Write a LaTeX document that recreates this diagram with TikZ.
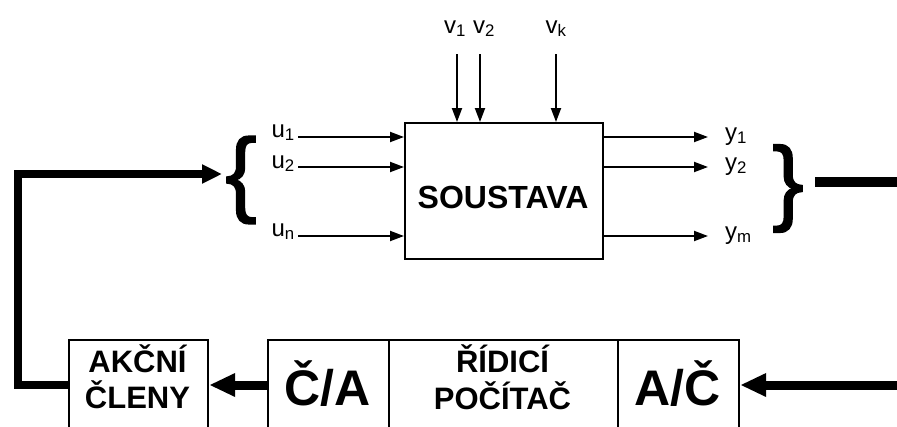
\documentclass[tikz,border=0pt]{standalone}
\usepackage{fontspec}
\setmainfont{Liberation Sans}
\newfontfamily\bracefont[FakeBold=1.6]{Liberation Sans}
\usetikzlibrary{arrows.meta}
\begin{document}
\begin{tikzpicture}[x=1pt,y=-1pt,
  arr/.style={line width=2pt,-{Triangle[length=14pt,width=10pt]}},
  blk/.style={draw,line width=2.2pt,inner sep=0pt},
  lbl/.style={font=\fontsize{24}{24}\selectfont,inner sep=1pt},
  bigtxt/.style={font=\fontsize{31}{31}\selectfont\bfseries,inner sep=0pt},
  hugetxt/.style={font=\fontsize{50}{50}\selectfont\bfseries,inner sep=0pt},
  bracetxt/.style={font=\fontsize{94}{94}\bracefont,inner sep=0pt},
  fatarr/.style={line width=9pt,-{Triangle[length=26pt,width=22pt]}}]
\useasboundingbox (0,0) rectangle (897,426);
\begin{scope}
\clip (0,0) rectangle (897,426);
% system block
\node[blk,minimum width=198pt,minimum height=136pt,anchor=north west] (sys) at (404,122) {};
\node[font=\fontsize{32}{32}\selectfont\bfseries,inner sep=0pt,anchor=base] (systxt) at (503,208) {SOUSTAVA};
% inputs u
\node[lbl,anchor=base east] (u1) at (296,137) {u\textsubscript{1}};
\node[lbl,anchor=base east] (u2) at (296,168) {u\textsubscript{2}};
\node[lbl,anchor=base east] (un) at (296,236) {u\textsubscript{n}};
\coordinate (u1s) at (298,137);
\coordinate (u2s) at (298,167);
\coordinate (uns) at (298,236);
\draw[arr] (u1s) -- (sys.west |- u1s);
\draw[arr] (u2s) -- (sys.west |- u2s);
\draw[arr] (uns) -- (sys.west |- uns);
% disturbances v
\node[lbl,anchor=base] (v1) at (455,33) {v\textsubscript{1}};
\node[lbl,anchor=base] (v2) at (484,33) {v\textsubscript{2}};
\node[lbl,anchor=base] (vk) at (556,33) {v\textsubscript{k}};
\coordinate (v1s) at (457,54);
\coordinate (v2s) at (480,54);
\coordinate (vks) at (556,54);
\draw[arr] (v1s) -- (v1s |- sys.north);
\draw[arr] (v2s) -- (v2s |- sys.north);
\draw[arr] (vks) -- (vks |- sys.north);
% outputs y
\coordinate (y1e) at (708,137);
\coordinate (y2e) at (708,167);
\coordinate (yme) at (708,236);
\draw[arr] (sys.east |- y1e) -- (y1e);
\draw[arr] (sys.east |- y2e) -- (y2e);
\draw[arr] (sys.east |- yme) -- (yme);
\node[lbl,anchor=base west] (y1) at (724,140) {y\textsubscript{1}};
\node[lbl,anchor=base west] (y2) at (724,170) {y\textsubscript{2}};
\node[lbl,anchor=base west] (ym) at (724,239) {y\textsubscript{m}};
% braces
\node[bracetxt] (lb) at (241,180) {\{};
\node[bracetxt] (rb) at (788,188.5) {\}};
% bottom blocks
\node[blk,minimum width=139pt,minimum height=120pt,anchor=north west] (akcni) at (68,339) {};
\node[blk,minimum width=121pt,minimum height=120pt,anchor=north west] (ca) at (267,339) {};
\node[blk,minimum width=229pt,minimum height=120pt,anchor=north west] (cpu) at (388,339) {};
\node[blk,minimum width=121pt,minimum height=120pt,anchor=north west] (ac) at (617,339) {};
\node[bigtxt,anchor=base] (akcni1) at (137.5,372) {AKČNÍ};
\node[bigtxt,anchor=base] (akcni2) at (137.5,408) {ČLENY};
\node[bigtxt,anchor=base] (cpu1) at (502.5,372) {ŘÍDICÍ};
\node[bigtxt,anchor=base] (cpu2) at (502.5,409) {POČÍTAČ};
\node[hugetxt,anchor=base] (catxt) at (327.5,405) {Č/A};
\node[hugetxt,anchor=base] (actxt) at (677.5,405) {A/Č};
% feedback
\coordinate (row) at (0,385);
\coordinate (lbtip) at (222,174);
\coordinate (cl) at (18,174);
\coordinate (cr) at (18,385);
\draw[line width=8.5pt,-{Triangle[length=20pt,width=18pt]}] (akcni.west |- row) -- (cr) -- (cl) -- (lbtip);
\draw[fatarr] (ca.west |- row) -- (akcni.east |- row);
\coordinate (inR) at (905,385);
\draw[fatarr] (inR) -- (ac.east |- row);
\coordinate (outL) at (815,182);
\coordinate (outR) at (905,182);
\draw[line width=10pt] (outL) -- (outR);
\end{scope}
\end{tikzpicture}
\end{document}
